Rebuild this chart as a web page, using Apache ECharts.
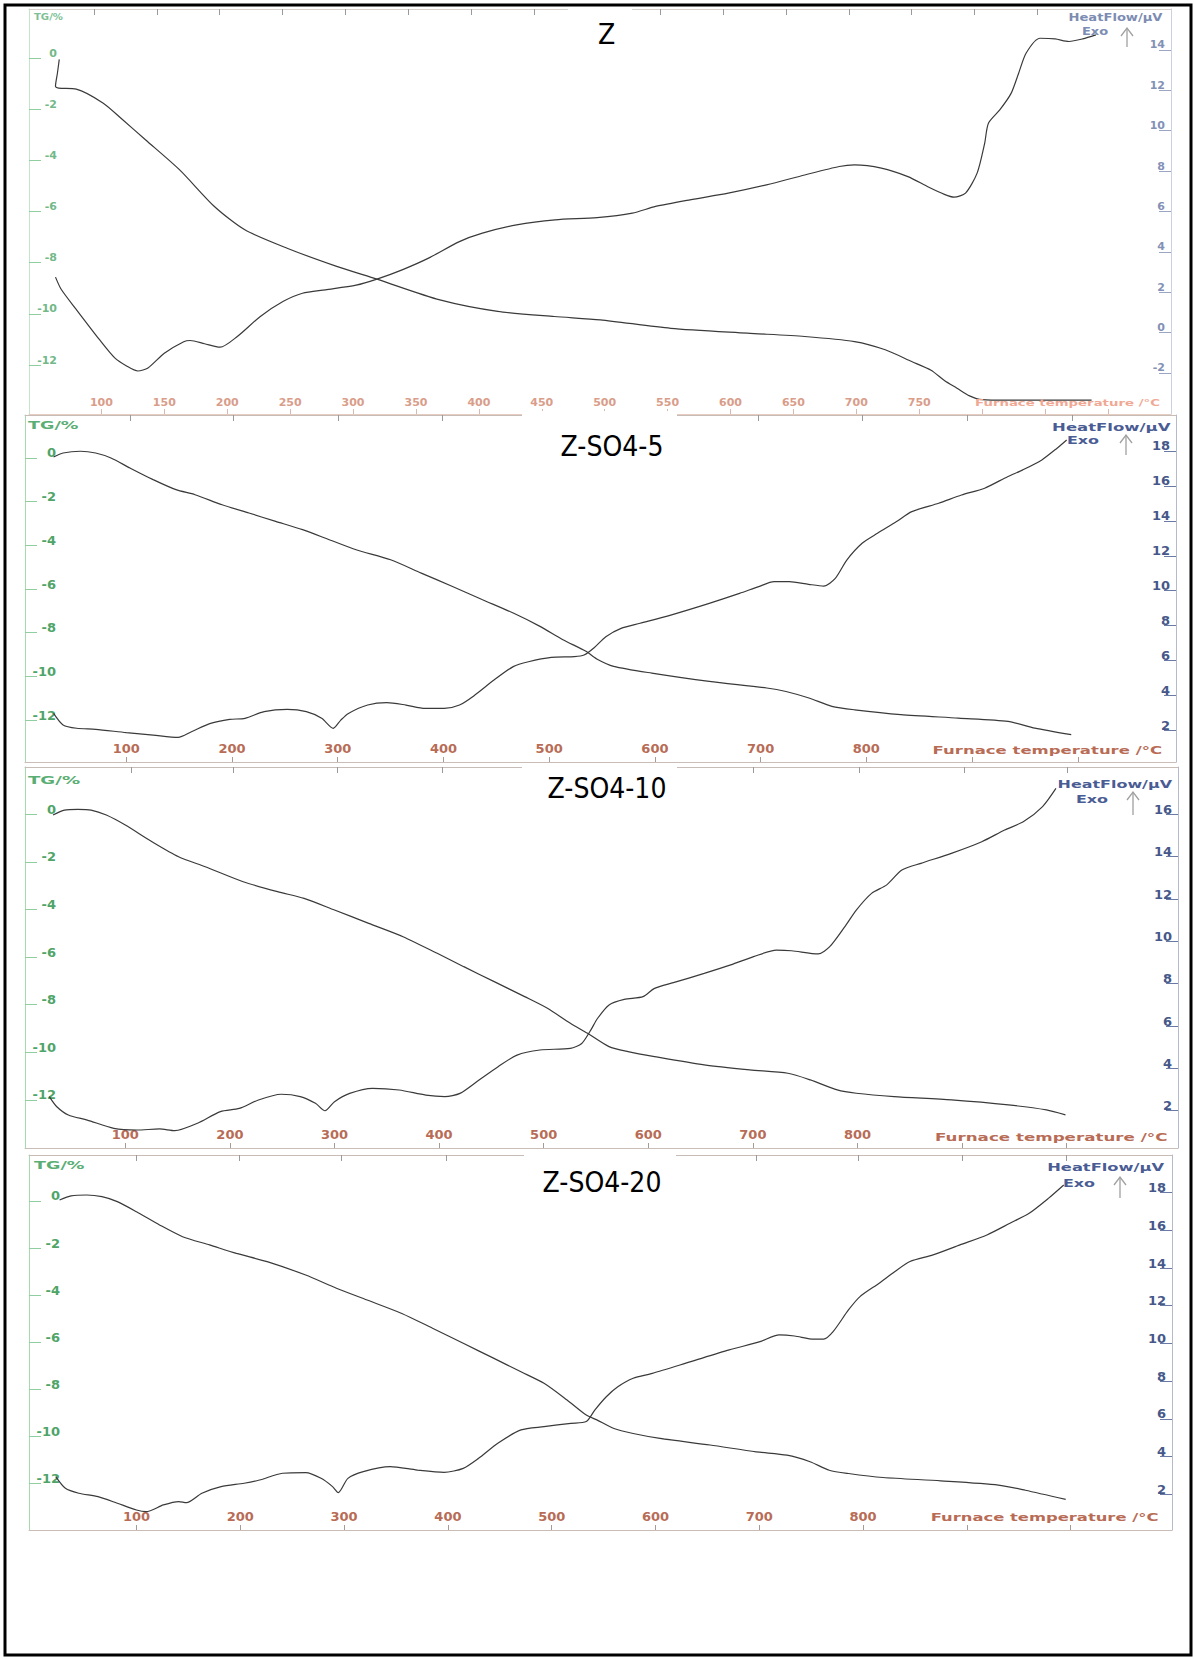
<!DOCTYPE html>
<html><head><meta charset="utf-8">
<script src="https://cdn.jsdelivr.net/npm/echarts@6/dist/echarts.min.js"></script>
<style>html,body{margin:0;padding:0;background:#fff}#c{width:1194px;height:1659px}</style>
</head><body><div id="c"></div>
<script>
// ---------------- DATA (temperature °C, value) ----------------
const titles = ['Z', 'Z-SO4-5', 'Z-SO4-10', 'Z-SO4-20'];

const z_tg = [[66.5,-0.25],[65,-0.8],[63.5,-1.3],[66,-1.37],[80,-1.41],[101.5,-1.96],[116.7,-2.6],[135,-3.39],[162,-4.56],[189.8,-6.0],[214,-6.91],[247.6,-7.63],[287,-8.34],[319,-8.84],[369,-9.65],[415,-10.1],[460,-10.3],[496.5,-10.43],[552.5,-10.76],[613.4,-10.95],[659,-11.08],[698.6,-11.28],[723,-11.6],[744,-12.06],[759.4,-12.4],[770,-12.8],[780,-13.1],[790,-13.4],[800,-13.55],[820,-13.57],[887,-13.57]];
const z_hf = [[63.5,2.5],[68,1.9],[80,0.9],[98.5,-0.6],[110.6,-1.5],[120,-1.9],[129,-2.15],[137,-2.0],[150,-1.27],[165.4,-0.7],[170.6,-0.64],[182,-0.8],[194.3,-0.97],[208,-0.44],[226.3,0.55],[244.6,1.3],[259.8,1.7],[278,1.87],[302.4,2.1],[319,2.4],[339,2.86],[360,3.44],[384.5,4.26],[402.8,4.68],[430,5.09],[460.6,5.34],[494,5.45],[522,5.67],[540.4,6.0],[567.8,6.33],[598.2,6.66],[628.6,7.07],[659,7.56],[686.4,7.98],[698.6,8.06],[719.9,7.9],[741,7.48],[756.4,6.99],[770,6.6],[777.7,6.46],[786.8,6.66],[796,7.65],[802,9.13],[805,10.12],[814,10.78],[823,11.6],[829,12.6],[835,13.6],[846,14.33],[858,14.3],[869,14.17],[880,14.3],[890.4,14.5]];

const s5_tg = [[31.2,-0.18],[40.2,0],[56.5,0.08],[71,0],[85.5,-0.23],[103.6,-0.69],[125.4,-1.22],[147,-1.68],[165,-1.91],[190.6,-2.37],[216,-2.75],[241.3,-3.13],[266.7,-3.51],[292,-3.97],[317.4,-4.43],[350,-4.89],[379,-5.5],[408,-6.1],[437,-6.72],[466,-7.33],[491.3,-7.94],[513,-8.55],[534.8,-9.08],[545,-9.43],[561,-9.77],[597,-10.08],[651.4,-10.46],[705.8,-10.76],[724,-10.92],[745.7,-11.22],[767.4,-11.6],[789,-11.76],[832.6,-11.98],[887,-12.14],[934,-12.29],[959.4,-12.6],[993.8,-12.9]];
const s5_hf = [[31.2,2.69],[40.2,2.03],[53,1.84],[71,1.78],[100,1.59],[125.4,1.45],[149,1.32],[161.6,1.64],[179.7,2.12],[197.8,2.35],[212.3,2.41],[230.4,2.79],[252.2,2.92],[270.3,2.79],[284.8,2.41],[295.7,1.84],[302.9,2.31],[310.1,2.69],[328.3,3.17],[346.4,3.31],[364.5,3.17],[382.6,2.98],[400.7,2.98],[415.2,3.17],[429.7,3.74],[447.8,4.6],[466,5.37],[480.4,5.65],[502,5.9],[523.9,5.94],[533,6.03],[542.5,6.45],[553.6,7.08],[568,7.56],[586,7.85],[615,8.32],[651.4,8.99],[680,9.56],[698.2,9.95],[712.7,10.23],[727,10.23],[745.3,10.08],[759.7,9.98],[770.6,10.42],[781.5,11.47],[796,12.43],[810.5,13.0],[828.6,13.67],[843,14.24],[868.4,14.72],[890,15.19],[911.9,15.58],[933.6,16.24],[948,16.63],[966,17.2],[980.4,17.87],[989.5,18.34]];

const s10_tg = [[30.9,-0.24],[41.8,-0.03],[54.5,0],[67.3,-0.03],[81.8,-0.24],[100,-0.66],[125.5,-1.36],[150.9,-1.99],[176.4,-2.41],[212.7,-3.04],[245.5,-3.46],[270.9,-3.74],[300,-4.23],[332.7,-4.79],[365.5,-5.35],[398.2,-6.05],[423.6,-6.61],[452.7,-7.24],[481.8,-7.87],[503.6,-8.36],[525.5,-8.99],[542,-9.41],[562.5,-9.97],[580.7,-10.18],[606,-10.39],[653.5,-10.74],[697,-10.95],[733.5,-11.09],[755,-11.37],[780.7,-11.79],[798.9,-11.93],[835,-12.07],[890,-12.21],[944.4,-12.42],[980.7,-12.63],[998.9,-12.84]];
const s10_hf = [[27.3,2.43],[34.5,1.95],[45.5,1.56],[63.6,1.32],[89,0.93],[110.9,0.85],[132.7,0.9],[147.3,0.82],[169,1.17],[190.9,1.72],[209,1.87],[227.3,2.27],[249,2.54],[267.3,2.43],[281.8,2.11],[290.9,1.76],[300,2.19],[314.5,2.58],[336.4,2.82],[361.8,2.74],[387.3,2.5],[405.5,2.43],[420,2.58],[438.2,3.21],[456.4,3.84],[474.5,4.39],[496.4,4.63],[525.5,4.71],[536.4,4.94],[545,5.57],[551.6,6.13],[562.5,6.76],[577,7.02],[595,7.15],[606,7.54],[624,7.81],[653.5,8.25],[678.9,8.65],[700.7,9.04],[722.5,9.35],[737,9.32],[762.5,9.17],[773.5,9.51],[788,10.46],[798.9,11.24],[813.5,12.03],[828,12.43],[842.5,13.13],[860.7,13.45],[889.8,13.92],[918.9,14.47],[940.7,15.02],[958.9,15.42],[977,16.13],[989.8,16.99]];

const s20_tg = [[25.9,-0.17],[37,0],[51.9,0.04],[66.7,-0.03],[81.5,-0.24],[100,-0.67],[122.2,-1.23],[144.4,-1.73],[170.4,-2.08],[196.3,-2.44],[225.9,-2.79],[263,-3.36],[292.6,-3.92],[322.2,-4.42],[355.6,-4.99],[385.2,-5.62],[414.8,-6.26],[444.4,-6.9],[470.4,-7.47],[492.6,-7.96],[514.8,-8.67],[533.3,-9.31],[543,-9.5],[560,-9.88],[578.5,-10.09],[604.4,-10.3],[652.6,-10.58],[697,-10.87],[726.7,-11.01],[748.9,-11.29],[767.4,-11.65],[785.9,-11.79],[819.3,-11.96],[874.8,-12.1],[930.4,-12.28],[956.3,-12.5],[995.2,-12.89]];
const s20_hf = [[22.2,2.67],[31.5,2.05],[44.4,1.79],[63,1.61],[81.5,1.26],[100,0.9],[109.3,0.81],[125.9,1.17],[140.7,1.35],[148.1,1.29],[163,1.79],[181.5,2.14],[203.7,2.32],[218.5,2.49],[240.7,2.85],[263,2.88],[277.8,2.58],[288.9,2.14],[294.4,1.82],[303.7,2.58],[318.5,2.94],[344.4,3.2],[370.4,3.02],[396.3,2.9],[414.8,3.11],[429.6,3.64],[448.1,4.44],[470.4,5.15],[492.6,5.32],[518.5,5.5],[533.3,5.59],[541.5,6.2],[552.6,6.91],[563.7,7.44],[578.5,7.89],[597,8.15],[634,8.77],[671,9.39],[700.7,9.83],[719.3,10.19],[734,10.13],[752.6,9.96],[761.9,9.96],[771.1,10.36],[785.9,11.51],[797,12.22],[815.5,12.93],[830.4,13.54],[845.2,14.08],[867.4,14.43],[893.3,14.96],[919.3,15.49],[941.5,16.11],[960,16.64],[978.5,17.43],[993.3,18.14]];

// tick labels
const z_xLabels = [100,150,200,250,300,350,400,450,500,550,600,650,700,750];
const z_xTicks = [100,150,200,250,300,350,400,450,500,550,600,650,700,750,800,850,900];
const z_topTicks = [94,144,194,244,294,344,394,444,494,544,594,644,694,744,794,844];
const s_xLabels = [100,200,300,400,500,600,700,800];
const s_xTicks = [100,200,300,400,500,600,700,800,900,1000];
const s5_topTicks = [103.5,201.3,300.9,398.6,499,599,698,795.8,895.1,994.5];
const s10_topTicks = [105.4,203,303,402.6,501,601,700.6,802,901.8,1001];
const s20_topTicks = [99.5,198.7,297,398,497,597,697.4,795,896,996];
const tgLabels = [0,-2,-4,-6,-8,-10,-12];
const z_hfLabels = [-2,0,2,4,6,8,10,12,14];
const s5_hfLabels = [2,4,6,8,10,12,14,16,18];
const s10_hfLabels = [2,4,6,8,10,12,14,16];
const s20_hfLabels = [2,4,6,8,10,12,14,16,18];

// ---------------- LAYOUT ----------------
const panels = [
  {tg:z_tg, hf:z_hf, xl:z_xLabels, xt:z_xTicks, tt:z_topTicks, hl:z_hfLabels,
   g:{left:29,top:9,width:1142,height:405}, xMin:42.45, xMax:950.1, tgMin:-14.11, tgMax:1.72, hfMin:-4.28, hfMax:15.78, small:true},
  {tg:s5_tg, hf:s5_hf, xl:s_xLabels, xt:s_xTicks, tt:s5_topTicks, hl:s5_hfLabels,
   g:{left:25,top:415,width:1151,height:347}, xMin:4.18, xMax:1092.9, tgMin:-14.15, tgMax:1.74, hfMin:-0.09, hfMax:19.77},
  {tg:s10_tg, hf:s10_hf, xl:s_xLabels, xt:s_xTicks, tt:s10_topTicks, hl:s10_hfLabels,
   g:{left:25,top:767,width:1153,height:381}, xMin:4.07, xMax:1106.5, tgMin:-14.23, tgMax:1.78, hfMin:0, hfMax:18},
  {tg:s20_tg, hf:s20_hf, xl:s_xLabels, xt:s_xTicks, tt:s20_topTicks, hl:s20_hfLabels,
   g:{left:29,top:1155,width:1143,height:375}, xMin:-3.56, xMax:1097.6, tgMin:-14.19, tgMax:1.74, hfMin:-0.16, hfMax:19.73}
];

const FONT = "'DejaVu Sans', Verdana, sans-serif";
const TFONT = "'Liberation Sans Narrow', 'DejaVu Sans Condensed', 'Liberation Sans', sans-serif";
const TICK_SHIFT = 5;
function shift(vals, min, max, h) { const d = TICK_SHIFT * (max - min) / h; return vals.map(v => v - d); }

const grid = [], xAxis = [], yAxis = [], series = [];
panels.forEach((p, i) => {
  const sm = !!p.small;
  const cX = sm ? '#d99d8a' : '#b86c56';
  const cTG = sm ? '#72b888' : '#4fa468';
  const cHF = sm ? '#8391b6' : '#465889';
  const fs = sm ? 11 : 13;
  grid.push(Object.assign({containLabel:false}, p.g));
  xAxis.push({
    type:'value', gridIndex:i, position:'bottom', min:p.xMin, max:p.xMax,
    axisLine:{show:true, onZero:false, lineStyle:{color: sm ? '#e6cbc0' : '#c9bdb8', width:1}},
    axisTick:{show:true, inside:true, length:5, customValues:p.xt, lineStyle:{color: sm ? '#d9b9ad' : '#a99a94'}},
    axisLabel:{show:true, inside:true, margin: sm ? 6 : 7, customValues:p.xl, color:cX, fontSize:fs, fontWeight:'bold', fontFamily:FONT},
    splitLine:{show:false}
  });
  xAxis.push({
    type:'value', gridIndex:i, position:'top', min:p.xMin, max:p.xMax,
    axisLine:{show:true, onZero:false, lineStyle:{color: sm ? '#d8d0ca' : '#c7bcb6', width:1}},
    axisTick:{show:true, inside:true, length:6, customValues:p.tt, lineStyle:{color:'#9a9a9a'}},
    axisLabel:{show:false}, splitLine:{show:false}
  });
  yAxis.push({
    type:'value', gridIndex:i, position:'left', min:p.tgMin, max:p.tgMax,
    axisLine:{show:true, onZero:false, lineStyle:{color: sm ? '#c4e4cc' : '#a6d8b2', width:1}},
    axisTick:{show:true, inside:true, length:12, customValues:shift(tgLabels, p.tgMin, p.tgMax, p.g.height), lineStyle:{color:'#8fcf9f'}},
    axisLabel:{show:true, inside:true, align:'right', margin: sm ? 28 : 31, customValues:tgLabels, color:cTG, fontSize:fs, fontWeight:'bold', fontFamily:FONT},
    splitLine:{show:false}
  });
  yAxis.push({
    type:'value', gridIndex:i, position:'right', min:p.hfMin, max:p.hfMax,
    axisLine:{show:true, onZero:false, lineStyle:{color: sm ? '#ccd1df' : '#b5bacb', width:1}},
    axisTick:{show:true, inside:true, length:12, customValues:shift(p.hl, p.hfMin, p.hfMax, p.g.height), lineStyle:{color: sm ? '#9aa6c4' : '#6a7aa4'}},
    axisLabel:{show:true, inside:true, margin:6, customValues:p.hl, color:cHF, fontSize:fs, fontWeight:'bold', fontFamily:FONT},
    splitLine:{show:false}
  });
  [p.tg, p.hf].forEach((d, k) => {
    series.push({
      type:'line', xAxisIndex:2*i, yAxisIndex:2*i + k, data:d,
      showSymbol:false, symbol:'none', smooth:0.25, silent:true,
      lineStyle:{color:'#3a3a3a', width:1.2}
    });
  });
});

// ---------------- ANNOTATIONS ----------------
function txt(text, x, y, o) {
  return {type:'text', x:x, y:y, scaleX:o.sx || 1, z:100, silent:true,
    style:{text:text, fill:o.color, font:(o.weight || 'bold') + ' ' + o.size + 'px ' + (o.family || FONT),
      textAlign:o.align || 'left', textVerticalAlign:'middle'}};
}
function box(x1, y1, x2, y2) {
  return {type:'rect', z:90, silent:true, shape:{x:x1, y:y1, width:x2 - x1, height:y2 - y1}, style:{fill:'#ffffff'}};
}
function arrow(x, y1, y2) {
  return [
    {type:'line', z:100, silent:true, shape:{x1:x, y1:y1, x2:x, y2:y2}, style:{stroke:'#a0a0a0', lineWidth:1.3}},
    {type:'polyline', z:100, silent:true, shape:{points:[[x - 6, y1 + 8], [x, y1], [x + 6, y1 + 8]]}, style:{stroke:'#a0a0a0', lineWidth:1.3, fill:'none'}}
  ];
}

const titleBoxes = [[568,8,632,55],[522,411,677,468],[522,765,677,815],[524,1152,676,1205]];
const titlePos = [[606.5,34],[612,446],[607,788],[602,1182]];
const tgPos = [[34,17,9,1.12],[28,425,11,1.6],[28,780,11,1.65],[34,1165,11,1.6]];
const hfPos = [[1162.5,18,10,1.31],[1170.5,427,11,1.5],[1172,784,11,1.45],[1164,1167,11,1.48]];
const exoPos = [[1095,32,10,1.3],[1083,440,11,1.45],[1092,799,11,1.45],[1079,1183,11,1.45]];
const arrowPos = [[1127,28,47],[1126,435,455],[1133,792,815],[1120,1177,1198]];
const furnPos = [[975,403,9.5,1.4],[932.6,750,11,1.5],[935,1137,11,1.52],[930.7,1517,11,1.49]];

const graphic = [];
graphic.push({type:'rect', z:100, silent:true, shape:{x:5, y:5, width:1186, height:1650}, style:{fill:'none', stroke:'#000', lineWidth:3}});
for (let i = 0; i < 4; i++) {
  const sm = i === 0;
  graphic.push(box.apply(null, titleBoxes[i]));
  graphic.push(txt(titles[i], titlePos[i][0], titlePos[i][1], {size:28, color:'#000', weight:'normal', family:TFONT, align:'center'}));
  graphic.push(txt('TG/%', tgPos[i][0], tgPos[i][1], {size:tgPos[i][2], sx:tgPos[i][3], color: sm ? '#7cc094' : '#5aae74'}));
  graphic.push(txt('HeatFlow/\u03bcV', hfPos[i][0], hfPos[i][1], {size:hfPos[i][2], sx:hfPos[i][3], color: sm ? '#7d8cb2' : '#4a5c94', align:'right'}));
  graphic.push(txt('Exo', exoPos[i][0], exoPos[i][1], {size:exoPos[i][2], sx:exoPos[i][3], color: sm ? '#7d8cb2' : '#4a5c94', align:'center'}));
  arrow.apply(null, arrowPos[i]).forEach(a => graphic.push(a));
  graphic.push(txt('Furnace temperature /\u00b0C', furnPos[i][0], furnPos[i][1], {size:furnPos[i][2], sx:furnPos[i][3], color: sm ? '#f0a894' : '#b86c56'}));
}

const chart = echarts.init(document.getElementById('c'), null, {renderer:'svg', width:1194, height:1659});
chart.setOption({
  animation:false,
  backgroundColor:'#ffffff',
  grid:grid, xAxis:xAxis, yAxis:yAxis, series:series, graphic:graphic
});
</script></body></html>
